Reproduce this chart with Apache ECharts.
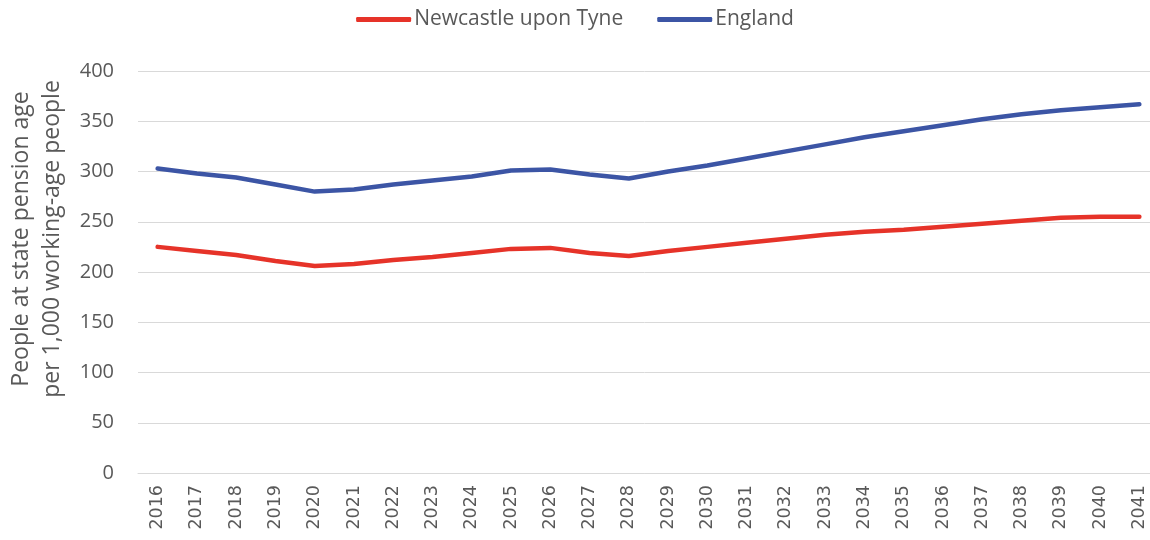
<!DOCTYPE html>
<html>
<head>
<meta charset="utf-8">
<script src="https://cdn.jsdelivr.net/npm/echarts@6/dist/echarts.min.js"></script>
<style>
  html, body { margin: 0; padding: 0; background: #fff; }
  #chart { width: 1150px; height: 540px; }
</style>
</head>
<body>
<div id="chart"></div>
<script>
// data
var years = ['2016','2017','2018','2019','2020','2021','2022','2023','2024','2025','2026','2027','2028',
             '2029','2030','2031','2032','2033','2034','2035','2036','2037','2038','2039','2040','2041'];
var newcastle = [225, 221, 217, 211, 206, 208, 212, 215, 219, 223, 224, 219, 216,
                 221, 225, 229, 233, 237, 240, 242, 245, 248, 251, 254, 255, 255];
var england = [303, 298, 294, 287, 280, 282, 287, 291, 295, 301, 302, 297, 293,
               300, 306, 313, 320, 327, 334, 340, 346, 352, 357, 361, 364, 367];
var yTicks = { min: 0, max: 400, interval: 50 };

var textColor = '#595959';
var font = 'Open Sans';

var dom = document.getElementById('chart');
var myChart = echarts.init(dom);
var option = {
    animation: false,
    textStyle: { fontFamily: font },
    legend: {
        top: 4,
        left: 'center',
        itemWidth: 55,
        itemHeight: 5,
        itemGap: 34,
        icon: 'roundRect',
        textStyle: { color: textColor, fontSize: 21, fontFamily: font, padding: [0, 0, 0, -2] },
        data: ['Newcastle upon Tyne', 'England']
    },
    grid: {
        left: 138,
        width: 1021,
        top: 71,
        bottom: 67,
        containLabel: false,
        outerBoundsMode: 'none'
    },
    xAxis: {
        type: 'category',
        data: years,
        boundaryGap: true,
        axisLine: { lineStyle: { color: '#d9d9d9', width: 1 } },
        axisTick: { show: false },
        axisLabel: {
            rotate: 90,
            interval: 0,
            color: textColor,
            fontSize: 17.5,
            margin: 12,
            fontFamily: 'DejaVu Sans'
        }
    },
    yAxis: {
        type: 'value',
        min: yTicks.min,
        max: yTicks.max,
        interval: yTicks.interval,
        name: 'People at state pension age\nper 1,000 working-age people',
        nameLocation: 'middle',
        nameGap: 70,
        nameTextStyle: { color: textColor, fontSize: 23, lineHeight: 31, fontFamily: font, padding: [0, 0, 0, 66] },
        axisLine: { show: false },
        axisTick: { show: false },
        axisLabel: { color: textColor, fontSize: 20, margin: 24, fontFamily: font },
        splitLine: { lineStyle: { color: '#d9d9d9', width: 1 } }
    },
    series: [
        {
            name: 'Newcastle upon Tyne',
            type: 'line',
            data: newcastle,
            symbol: 'none',
            lineStyle: { color: '#e63329', width: 4.5, cap: 'round', join: 'round' },
            itemStyle: { color: '#e63329' }
        },
        {
            name: 'England',
            type: 'line',
            data: england,
            symbol: 'none',
            lineStyle: { color: '#3c55a5', width: 4.5, cap: 'round', join: 'round' },
            itemStyle: { color: '#3c55a5' }
        }
    ]
};
myChart.setOption(option, true);
</script>
</body>
</html>
